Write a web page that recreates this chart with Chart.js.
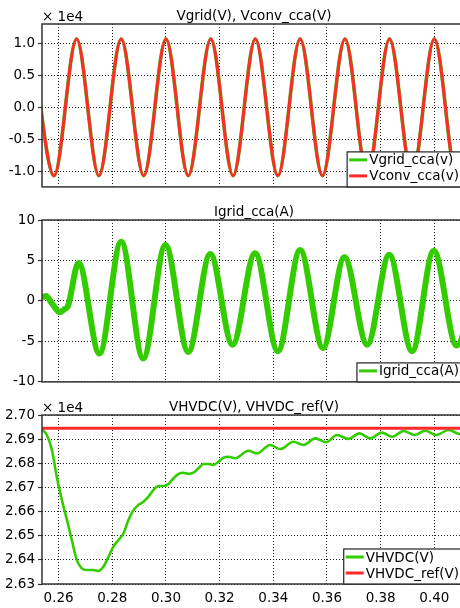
<!DOCTYPE html>
<html>
<head>
<meta charset="utf-8">
<script src="https://cdn.jsdelivr.net/npm/chart.js@4.4.1/dist/chart.umd.min.js"></script>
<style>
  html, body { margin: 0; padding: 0; background: #fff; overflow: hidden; }
  body { width: 460px; height: 608px; position: relative; }
  canvas { position: absolute; left: 0; }
</style>
</head>
<body>
<canvas id="vac" width="470" height="198" style="top:0"></canvas>
<canvas id="iac" width="470" height="195" style="top:198px"></canvas>
<canvas id="vdc" width="470" height="215" style="top:393px"></canvas>
<script>
// time axis (s)
const timeTicks = [0.26, 0.28, 0.30, 0.32, 0.34, 0.36, 0.38, 0.40];
const X_MIN = 0.2538, X_MAX = 0.4118;

// AC voltages: peak / trough samples (V)
const vacTime = [0.2500, 0.2583, 0.2667, 0.2750, 0.2833, 0.2917, 0.3000, 0.3083, 0.3167, 0.3250, 0.3333,
                 0.3417, 0.3500, 0.3583, 0.3667, 0.3750, 0.3833, 0.3917, 0.4000, 0.4083, 0.4167];
const vgridV = [10700, -10700, 10700, -10700, 10700, -10700, 10700, -10700, 10700, -10700, 10700,
                -10700, 10700, -10700, 10700, -10700, 10700, -10700, 10700, -10700, 10700];
const vconvV = [10700, -10700, 10700, -10700, 10700, -10700, 10700, -10700, 10700, -10700, 10700,
                -10700, 10700, -10700, 10700, -10700, 10700, -10700, 10700, -10700, 10700];
const vacTicks = [-10000, -5000, 0, 5000, 10000];

// grid current (A)
const igridTime = [0.2537, 0.2553, 0.2575, 0.2604, 0.2622, 0.2634, 0.2674, 0.2752, 0.2833, 0.2915, 0.2998,
                   0.3083, 0.3165, 0.3248, 0.3332, 0.3417, 0.3500, 0.3585, 0.3665, 0.3750, 0.3832, 0.3917,
                   0.3998, 0.4083, 0.4167];
const igridA = [0.4, 0.6, -0.3, -1.4, -1.0, -0.7, 4.7, -6.5, 7.3, -7.1, 6.9,
                -6.3, 5.8, -5.4, 5.9, -6.2, 6.3, -5.8, 5.4, -5.4, 5.7, -6.2,
                6.2, -5.5, 5.5];
const iacTicks = [-10, -5, 0, 5, 10];

// HVDC voltage (V)
const vdcTime = [0.2537, 0.2556, 0.2575, 0.2593, 0.2612, 0.2631, 0.2649, 0.2668, 0.2686, 0.2705, 0.2730,
                 0.2748, 0.2767, 0.2786, 0.2804, 0.2823, 0.2842, 0.2860, 0.2879, 0.2897, 0.2916, 0.2935,
                 0.2953, 0.2972, 0.2991, 0.3009, 0.3028, 0.3047, 0.3065, 0.3084, 0.3102, 0.3121, 0.3140,
                 0.3158, 0.3177, 0.3196, 0.3214, 0.3233, 0.3258, 0.3307, 0.3339, 0.3388, 0.3426, 0.3475,
                 0.3512, 0.3556, 0.3597, 0.3637, 0.3680, 0.3721, 0.3761, 0.3804, 0.3844, 0.3885, 0.3926,
                 0.3966, 0.4007, 0.4053, 0.4096, 0.4135];
const vhvdcV = [26941, 26917, 26855, 26744, 26648, 26565, 26482, 26399, 26365, 26358, 26358,
                26354, 26372, 26413, 26455, 26482, 26510, 26565, 26606, 26627, 26641, 26662,
                26689, 26706, 26706, 26714, 26738, 26756, 26761, 26756, 26761, 26779, 26797,
                26797, 26793, 26807, 26823, 26827, 26821, 26852, 26841, 26876, 26859, 26889,
                26876, 26903, 26887, 26917, 26901, 26924, 26903, 26927, 26910, 26934, 26917,
                26935, 26917, 26938, 26921, 26940];
const vhvdcRef = 26945;
const vdcTicks = [26300, 26400, 26500, 26600, 26700, 26800, 26900, 27000];

const GREEN = '#33cc00';
const RED = '#ff2a2a';
const FONT = { family: 'DejaVu Sans', size: 13.5 };

const pts = (xs, ys) => xs.map((x, i) => ({ x, y: ys[i] }));

// frame, title, exponent label and boxed legend in the lower right corner
const panelPlugin = {
  id: 'panel',
  afterDatasetsDraw(chart, args, opts) {
    const { ctx, chartArea: a } = chart;
    ctx.save();
    ctx.strokeStyle = '#333';
    ctx.lineWidth = 1.5;
    ctx.strokeRect(a.left, a.top, a.right - a.left, a.bottom - a.top);

    ctx.font = '13.5px "DejaVu Sans"';
    ctx.fillStyle = '#000';
    ctx.textBaseline = 'alphabetic';
    ctx.textAlign = 'center';
    ctx.fillText(opts.title, (a.left + a.right) / 2, a.top - 4);
    if (opts.exponent) {
      ctx.textAlign = 'left';
      ctx.fillText(opts.exponent, a.left, a.top - 3);
    }

    const sets = chart.data.datasets;
    const textW = Math.max(...sets.map(d => ctx.measureText(d.label).width));
    const w = textW + 25, h = 16 * sets.length + 3;
    const x = a.right - 4 - w, y = a.bottom - h;
    ctx.fillStyle = '#fff';
    ctx.fillRect(x, y, w, h);
    ctx.strokeStyle = '#222';
    ctx.lineWidth = 1.2;
    ctx.strokeRect(x, y, w, h);
    sets.forEach((d, i) => {
      const cy = y + 8 + 16 * i;
      ctx.strokeStyle = d.borderColor;
      ctx.lineWidth = 3;
      ctx.beginPath();
      ctx.moveTo(x + 2, cy);
      ctx.lineTo(x + 20, cy);
      ctx.stroke();
      ctx.fillStyle = '#000';
      ctx.textAlign = 'left';
      ctx.textBaseline = 'middle';
      ctx.fillText(d.label, x + 22, cy + 1);
    });
    ctx.restore();
  }
};

function xScale(showLabels) {
  return {
    type: 'linear',
    min: X_MIN,
    max: X_MAX,
    afterBuildTicks: s => { s.ticks = timeTicks.map(v => ({ value: v })); },
    afterFit: s => { s.height = showLabels ? 24 : 0; },
    grid: { color: '#222', drawTicks: false },
    border: { display: false, dash: [1, 2] },
    ticks: {
      display: showLabels, padding: 6, autoSkip: false, maxRotation: 0,
      font: FONT, color: '#000', callback: v => v.toFixed(2)
    }
  };
}

function yScale(min, max, ticks, fmt) {
  return {
    type: 'linear',
    min, max,
    afterBuildTicks: s => { s.ticks = ticks.map(v => ({ value: v })); },
    afterFit: s => { s.width = 42; },
    grid: { color: '#222', tickLength: 4, tickColor: '#333', tickWidth: 1.2 },
    border: { display: false, dash: [1, 2] },
    ticks: { padding: 3, font: FONT, color: '#000', callback: fmt }
  };
}

function lineSet(label, data, color, width, order) {
  return {
    label, data, borderColor: color, backgroundColor: color, borderWidth: width,
    pointRadius: 0, cubicInterpolationMode: 'monotone', order
  };
}

function makeChart(id, datasets, yOpts, showX, panel, pad) {
  return new Chart(document.getElementById(id), {
    type: 'line',
    data: { datasets },
    options: {
      responsive: false,
      animation: false,
      parsing: false,
      layout: { padding: pad },
      scales: { x: xScale(showX), y: yOpts },
      plugins: { legend: { display: false }, tooltip: { enabled: false }, panel }
    },
    plugins: [panelPlugin]
  });
}

makeChart('vac', [
    lineSet('Vgrid_cca(v)', pts(vacTime, vgridV), GREEN, 3.6, 1),
    lineSet('Vconv_cca(v)', pts(vacTime, vconvV), RED, 3, 0)
  ],
  yScale(-12450, 13050, vacTicks, v => (v / 1e4).toFixed(1)),
  false, { title: 'Vgrid(V), Vconv_cca(V)', exponent: '× 1e4' },
  { top: 24, bottom: 4, left: 0, right: 4 });

makeChart('iac', [
    lineSet('Igrid_cca(A)', pts(igridTime, igridA), GREEN, 6, 0)
  ],
  yScale(-10, 10, iacTicks, v => String(v)),
  false, { title: 'Igrid_cca(A)' },
  { top: 22, bottom: 4, left: 0, right: 4 });

makeChart('vdc', [
    lineSet('VHVDC(V)', pts(vdcTime, vhvdcV), GREEN, 2.6, 1),
    lineSet('VHVDC_ref(V)', pts([0.25, 0.42], [vhvdcRef, vhvdcRef]), RED, 3, 0)
  ],
  yScale(26300, 27000, vdcTicks, v => (v / 1e4).toFixed(2)),
  true, { title: 'VHVDC(V), VHVDC_ref(V)', exponent: '× 1e4' },
  { top: 22, bottom: 0, left: 0, right: 4 });
</script>
</body>
</html>
